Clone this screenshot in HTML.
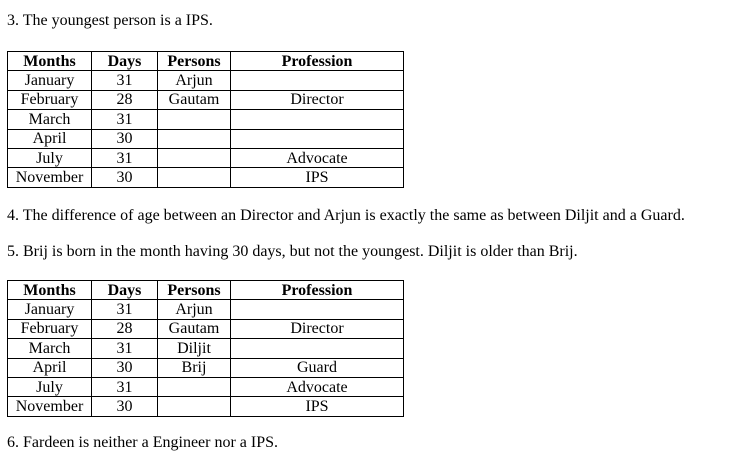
<!DOCTYPE html>
<html><head><meta charset="utf-8"><style>
body{margin:0;background:#fff;width:752px;height:454px;position:relative;overflow:hidden;font-family:"Liberation Serif",serif;color:#000;font-size:16px}
.t{position:absolute;left:7px;white-space:nowrap;line-height:18px}
table{position:absolute;left:7px;border-collapse:collapse;width:397px;table-layout:fixed}
td{border:1px solid #000;text-align:center;height:18.4px;padding:0;line-height:17px;font-size:16px}
tr:first-child td{font-weight:bold}
</style></head><body>
<div class="t" style="top:12px">3. The youngest person is a IPS.</div>
<table style="top:51px"><colgroup><col style="width:84px"><col style="width:66px"><col style="width:73px"><col></colgroup>
<tr><td>Months</td><td>Days</td><td>Persons</td><td>Profession</td></tr>
<tr><td>January</td><td>31</td><td>Arjun</td><td></td></tr>
<tr><td>February</td><td>28</td><td>Gautam</td><td>Director</td></tr>
<tr><td>March</td><td>31</td><td></td><td></td></tr>
<tr><td>April</td><td>30</td><td></td><td></td></tr>
<tr><td>July</td><td>31</td><td></td><td>Advocate</td></tr>
<tr><td>November</td><td>30</td><td></td><td>IPS</td></tr>
</table>
<div class="t" style="top:207px">4. The difference of age between an Director and Arjun is exactly the same as between Diljit and a Guard.</div>
<div class="t" style="top:243px">5. Brij is born in the month having 30 days, but not the youngest. Diljit is older than Brij.</div>
<table style="top:280px"><colgroup><col style="width:84px"><col style="width:66px"><col style="width:73px"><col></colgroup>
<tr><td>Months</td><td>Days</td><td>Persons</td><td>Profession</td></tr>
<tr><td>January</td><td>31</td><td>Arjun</td><td></td></tr>
<tr><td>February</td><td>28</td><td>Gautam</td><td>Director</td></tr>
<tr><td>March</td><td>31</td><td>Diljit</td><td></td></tr>
<tr><td>April</td><td>30</td><td>Brij</td><td>Guard</td></tr>
<tr><td>July</td><td>31</td><td></td><td>Advocate</td></tr>
<tr><td>November</td><td>30</td><td></td><td>IPS</td></tr>
</table>
<div class="t" style="top:434px">6. Fardeen is neither a Engineer nor a IPS.</div>
</body></html>
